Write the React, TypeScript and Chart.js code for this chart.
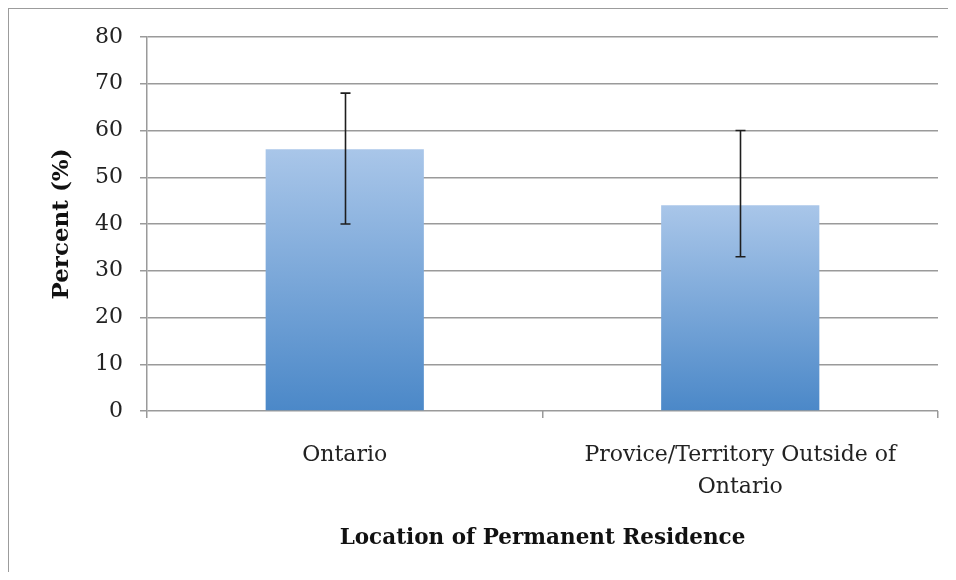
import React, { useEffect, useRef } from "react";
import { Chart, registerables } from "chart.js";

Chart.register(...registerables);

const categories: (string | string[])[] = ["Ontario", ["Provice/Territory Outside of", "Ontario"]];
const percentValues: number[] = [56, 44];
const errorLow: number[] = [40, 33];
const errorHigh: number[] = [68, 60];
const yTicks: number[] = [0, 10, 20, 30, 40, 50, 60, 70, 80];

const FONT = "'DejaVu Serif', 'Liberation Serif', serif";

const errorBarPlugin = {
  id: "errorBars",
  afterDatasetsDraw(chart: any) {
    const meta = chart.getDatasetMeta(0);
    const y = chart.scales.y;
    const ctx = chart.ctx;
    ctx.save();
    ctx.strokeStyle = "#1e1e1e";
    ctx.lineWidth = 1.6;
    meta.data.forEach((bar: any, i: number) => {
      const x = Math.round(bar.x) + 0.5;
      const yl = y.getPixelForValue(errorLow[i]);
      const yh = y.getPixelForValue(errorHigh[i]);
      ctx.beginPath();
      ctx.moveTo(x, yl);
      ctx.lineTo(x, yh);
      ctx.moveTo(x - 5, yl);
      ctx.lineTo(x + 5, yl);
      ctx.moveTo(x - 5, yh);
      ctx.lineTo(x + 5, yh);
      ctx.stroke();
    });
    ctx.restore();
  },
};

const framePlugin = {
  id: "frame",
  afterDraw(chart: any) {
    const ctx = chart.ctx;
    ctx.save();
    ctx.strokeStyle = "#9c9c9c";
    ctx.lineWidth = 2;
    ctx.beginPath();
    ctx.moveTo(8, 600);
    ctx.lineTo(8, 8);
    ctx.lineTo(950, 8);
    ctx.lineTo(950, 600);
    ctx.stroke();
    ctx.restore();
  },
};

export default function App() {
  const ref = useRef<HTMLCanvasElement | null>(null);
  useEffect(() => {
    if (!ref.current) return;
    const chart = new Chart(ref.current, {
      type: "bar",
      data: {
        labels: categories as any,
        datasets: [
          {
            data: percentValues,
            backgroundColor: (c: any) => {
              const ch = c.chart;
              const area = ch.chartArea;
              if (!area || !ch.scales.y || c.raw === undefined) return "#7fa8db";
              const top = ch.scales.y.getPixelForValue(c.raw);
              const bottom = ch.scales.y.getPixelForValue(0);
              const g = ch.ctx.createLinearGradient(0, top, 0, bottom);
              g.addColorStop(0, "#a9c6e9");
              g.addColorStop(1, "#4b88c8");
              return g;
            },
            borderWidth: 0,
            barPercentage: 0.4,
            categoryPercentage: 1,
          },
        ],
      },
      options: {
        animation: false,
        responsive: false,
        maintainAspectRatio: false,
        layout: { padding: { left: 40, top: 37, right: 18, bottom: 20 } },
        plugins: { legend: { display: false }, tooltip: { enabled: false } },
        scales: {
          x: {
            grid: {
              display: true,
              offset: true,
              drawOnChartArea: false,
              tickLength: 7,
              color: "#9a9a9a",
              lineWidth: 1.5,
            },
            border: { display: false },
            ticks: {
              color: "#222",
              padding: 22,
              maxRotation: 0,
              font: { family: FONT, size: 22, lineHeight: 1.42 },
            },
            title: {
              display: true,
              text: "Location of Permanent Residence",
              color: "#111",
              font: { family: FONT, size: 21.5, weight: "bold" },
              padding: { top: 0, bottom: 9 },
            },
            afterFit: (s: any) => {
              s.height = 149;
            },
          },
          y: {
            min: 0,
            max: 80,
            afterBuildTicks: (s: any) => {
              s.ticks = yTicks.map((v) => ({ value: v }));
            },
            grid: { color: "#9a9a9a", lineWidth: 1.5, tickLength: 7 },
            border: { display: true, color: "#9a9a9a", width: 1.5 },
            ticks: {
              color: "#222",
              padding: 17,
              font: { family: FONT, size: 22 },
            },
            title: {
              display: true,
              text: "Percent (%)",
              color: "#111",
              font: { family: FONT, size: 23, weight: "bold" },
              padding: { top: 8, bottom: 0 },
            },
            afterFit: (s: any) => {
              s.width = 107;
            },
          },
        },
      },
      plugins: [errorBarPlugin, framePlugin],
    });
    return () => chart.destroy();
  }, []);
  return (
    <div style={{ margin: -8, width: 956, height: 580, background: "#fff" }}>
      <canvas ref={ref} width={956} height={580} style={{ display: "block" }} />
    </div>
  );
}
